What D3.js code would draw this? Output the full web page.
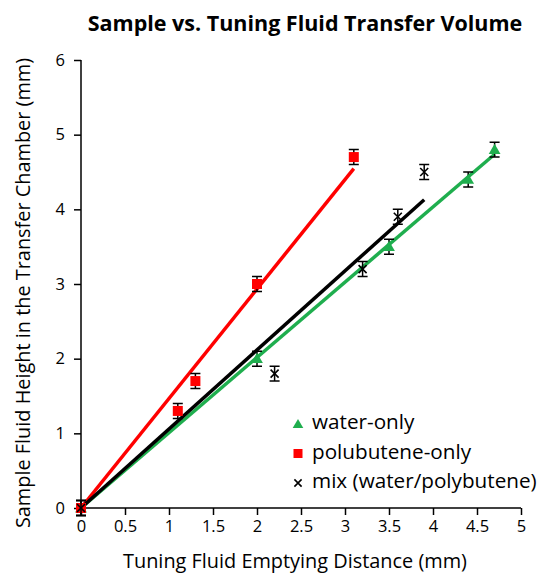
<!DOCTYPE html>
<html>
<head>
<meta charset="utf-8">
<script src="https://cdn.jsdelivr.net/npm/d3@7"></script>
<style>
  body { margin: 0; background: #fff; }
  svg { font-family: "Open Sans", sans-serif; }
</style>
</head>
<body>
<div id="chart"></div>
<script>
const width = 540, height = 574;

// data
const waterX = [0, 2, 3.5, 4.4, 4.7];
const waterY = [0, 2, 3.5, 4.4, 4.8];
const polyX = [0, 1.1, 1.3, 2, 3.1];
const polyY = [0, 1.3, 1.7, 3, 4.7];
const mixX = [0, 2.2, 3.2, 3.6, 3.9];
const mixY = [0, 1.8, 3.2, 3.9, 4.5];
const errY = 0.1;
const xTicks = [0, 0.5, 1, 1.5, 2, 2.5, 3, 3.5, 4, 4.5, 5];
const yTicks = [0, 1, 2, 3, 4, 5, 6];
const legendLabels = ["water-only", "polubutene-only", "mix (water/polybutene)"];

const svg = d3.select("#chart").append("svg")
  .attr("width", width).attr("height", height);

const x = d3.scaleLinear().domain([0, 5]).range([81, 521]);
const y = d3.scaleLinear().domain([0, 6]).range([508, 60]);

// axes
const xAxis = svg.append("g").attr("transform", `translate(0,${y(0)})`)
  .call(d3.axisBottom(x).tickValues(xTicks).tickSize(7).tickPadding(5).tickFormat(d => d));
const yAxis = svg.append("g").attr("transform", `translate(${x(0)},0)`)
  .call(d3.axisLeft(y).tickValues(yTicks).tickSize(7).tickPadding(9).tickFormat(d => d));
[xAxis, yAxis].forEach(a => {
  a.select(".domain").attr("stroke", "#000").attr("stroke-width", 1.5);
  a.selectAll(".tick line").attr("stroke", "#000").attr("stroke-width", 1.5);
  a.selectAll("text").attr("font-size", 16.5).attr("fill", "#000").attr("font-family", "Open Sans, sans-serif");
});
xAxis.selectAll(".domain").attr("d", `M${x(0)},0H${x(5)}`);
yAxis.selectAll(".domain").attr("d", `M0,${y(0)}V${y(6)}`);

// trendlines through origin (least squares)
function fit(xs, ys) {
  const sxy = d3.sum(xs, (v, i) => v * ys[i]);
  const sxx = d3.sum(xs, v => v * v);
  return sxy / sxx;
}
const series = [
  {xs: waterX, ys: waterY, color: "#1fae4e", shape: "tri"},
  {xs: polyX, ys: polyY, color: "#ff0000", shape: "sq"},
  {xs: mixX, ys: mixY, color: "#000000", shape: "x"}
];

series.forEach(s => {
  const k = fit(s.xs, s.ys);
  const xmax = d3.max(s.xs);
  svg.append("line")
    .attr("x1", x(0)).attr("y1", y(0))
    .attr("x2", x(xmax)).attr("y2", y(k * xmax))
    .attr("stroke", s.color).attr("stroke-width", 3.5);
});

function drawMarker(g, shape, color, cx, cy, r) {
  r = r || 5;
  if (shape === "sq") {
    g.append("rect").attr("x", cx - r).attr("y", cy - r)
      .attr("width", 2 * r).attr("height", 2 * r).attr("fill", color);
  } else if (shape === "tri") {
    g.append("path").attr("d", d3.symbol(d3.symbolTriangle, 2.4 * r * r)())
      .attr("transform", `translate(${cx},${cy + 1})`).attr("fill", color);
  } else {
    const h = r * 0.8;
    g.append("path").attr("d", `M${cx-h},${cy-h}L${cx+h},${cy+h}M${cx-h},${cy+h}L${cx+h},${cy-h}`)
      .attr("stroke", color).attr("stroke-width", 1.6);
  }
}

const marks = svg.append("g");
series.forEach(s => {
  s.xs.forEach((xv, i) => {
    const yv = s.ys[i];
    const cx = x(xv);
    // error bar
    marks.append("path")
      .attr("d", `M${cx},${y(yv - errY)}V${y(yv + errY)}M${cx-5},${y(yv - errY)}H${cx+5}M${cx-5},${y(yv + errY)}H${cx+5}`)
      .attr("stroke", "#000").attr("stroke-width", 1.5).attr("fill", "none");
    drawMarker(marks, s.shape, s.color, cx, y(yv));
  });
});

// legend
const legend = svg.append("g");
legendLabels.forEach((lab, i) => {
  const ly = 424 + i * 29.5;
  drawMarker(legend, series[i].shape, series[i].color, 298, ly, 4.5);
  legend.append("text").attr("x", 312).attr("y", ly + 5)
    .attr("font-size", 20.7).text(lab);
});

// titles
svg.append("text").attr("x", 305).attr("y", 31).attr("text-anchor", "middle")
  .attr("font-size", 21.5).attr("font-weight", "bold")
  .text("Sample vs. Tuning Fluid Transfer Volume");
svg.append("text").attr("x", 295).attr("y", 568).attr("text-anchor", "middle")
  .attr("font-size", 19.9).text("Tuning Fluid Emptying Distance (mm)");
svg.append("text").attr("transform", `translate(30,${(y(0) + y(6)) / 2 + 9}) rotate(-90)`)
  .attr("text-anchor", "middle").attr("font-size", 19.9)
  .text("Sample Fluid Height in the Transfer Chamber (mm)");
</script>
</body>
</html>
